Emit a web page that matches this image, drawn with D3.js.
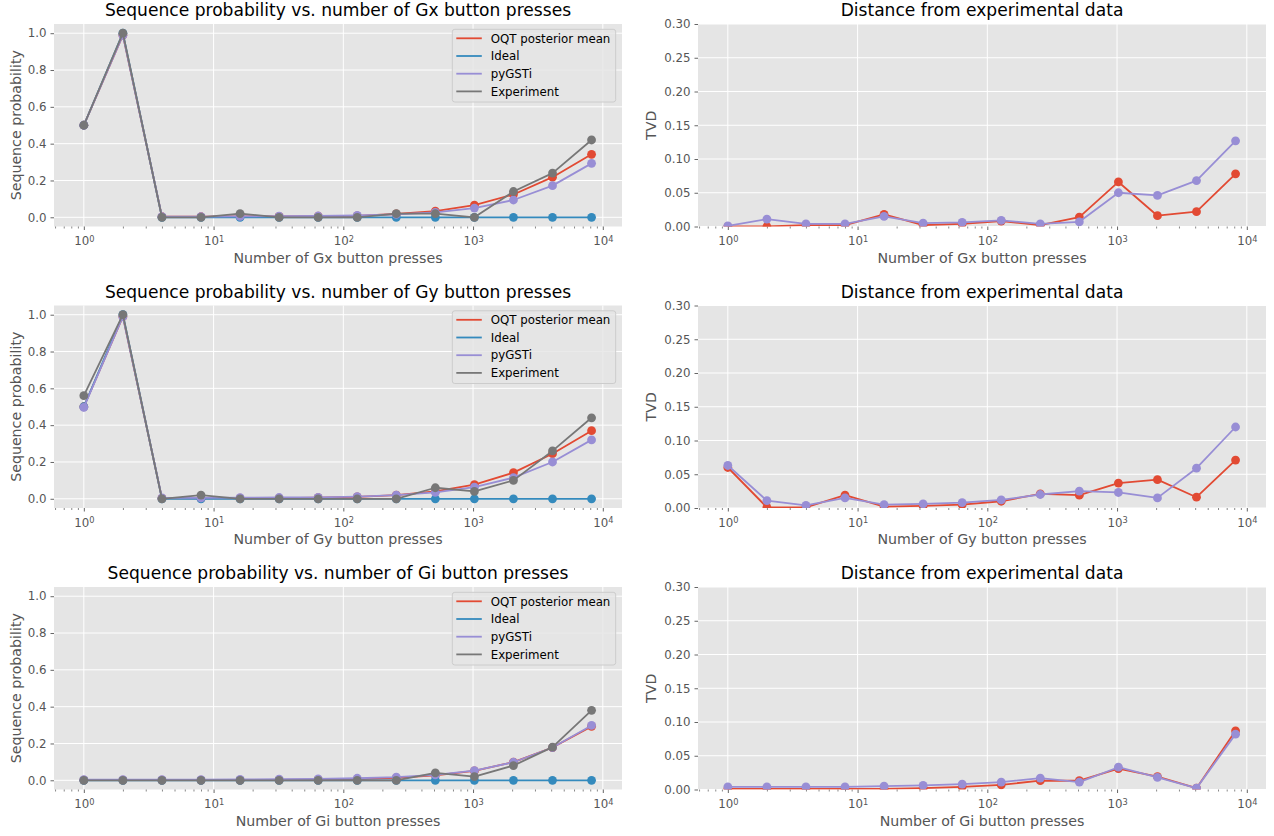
<!DOCTYPE html>
<html>
<head>
<meta charset="utf-8">
<script src="https://cdn.jsdelivr.net/npm/d3@7/dist/d3.min.js"></script>
<style>
  html, body { margin: 0; padding: 0; background: #fff; }
  svg { display: block; font-family: "DejaVu Sans", sans-serif; }
</style>
</head>
<body>
<svg id="chart" width="1274" height="836"></svg>
<script>
// ---------------- DATA ----------------
const presses = [1, 2, 4, 8, 16, 32, 64, 128, 256, 512, 1024, 2048, 4096, 8192];
const seriesNames = ["OQT posterior mean", "Ideal", "pyGSTi", "Experiment"];
const seriesColors = ["#E24A33", "#348ABD", "#988ED5", "#777777"];
const gates = ["Gx", "Gy", "Gi"];

const gxOqt    = [0.5, 0.99, 0.003, 0.003, 0.005, 0.005, 0.006, 0.008, 0.018, 0.034, 0.066, 0.124, 0.218, 0.342];
const gxIdeal  = [0.5, 1.0, 0, 0, 0, 0, 0, 0, 0, 0, 0, 0, 0, 0];
const gxPygsti = [0.5, 0.989, 0.004, 0.004, 0.005, 0.006, 0.007, 0.010, 0.016, 0.027, 0.050, 0.094, 0.172, 0.293];
const gxExp    = [0.5, 1.0, 0.0, 0.0, 0.02, 0.0, 0.0, 0.0, 0.02, 0.02, 0.0, 0.14, 0.24, 0.42];
const gxTvdOqt    = [0.0, 0.0, 0.002, 0.002, 0.018, 0.002, 0.004, 0.008, 0.002, 0.014, 0.066, 0.016, 0.022, 0.078];
const gxTvdPygsti = [0.001, 0.011, 0.004, 0.004, 0.015, 0.005, 0.006, 0.009, 0.004, 0.007, 0.050, 0.046, 0.068, 0.127];

const gyOqt    = [0.5, 0.99, 0.002, 0.002, 0.003, 0.004, 0.006, 0.010, 0.020, 0.040, 0.077, 0.142, 0.245, 0.370];
const gyIdeal  = [0.5, 1.0, 0, 0, 0, 0, 0, 0, 0, 0, 0, 0, 0, 0];
const gyPygsti = [0.497, 0.989, 0.005, 0.005, 0.006, 0.007, 0.008, 0.012, 0.020, 0.035, 0.063, 0.115, 0.200, 0.320];
const gyExp    = [0.56, 1.0, 0.0, 0.02, 0.0, 0.0, 0.0, 0.0, 0.0, 0.06, 0.04, 0.10, 0.26, 0.44];
const gyTvdOqt    = [0.060, 0.001, 0.001, 0.019, 0.002, 0.003, 0.005, 0.010, 0.021, 0.019, 0.037, 0.042, 0.016, 0.071];
const gyTvdPygsti = [0.063, 0.011, 0.004, 0.015, 0.005, 0.006, 0.008, 0.012, 0.020, 0.025, 0.023, 0.015, 0.059, 0.120];

const giOqt    = [0.001, 0.001, 0.001, 0.001, 0.001, 0.002, 0.004, 0.007, 0.013, 0.027, 0.051, 0.099, 0.178, 0.293];
const giIdeal  = [0, 0, 0, 0, 0, 0, 0, 0, 0, 0, 0, 0, 0, 0];
const giPygsti = [0.004, 0.004, 0.004, 0.004, 0.005, 0.006, 0.008, 0.011, 0.017, 0.029, 0.053, 0.098, 0.178, 0.298];
const giExp    = [0.0, 0.0, 0.0, 0.0, 0.0, 0.0, 0.0, 0.0, 0.0, 0.04, 0.02, 0.08, 0.18, 0.38];
const giTvdOqt    = [0.001, 0.001, 0.001, 0.001, 0.001, 0.002, 0.004, 0.007, 0.013, 0.013, 0.031, 0.019, 0.002, 0.087];
const giTvdPygsti = [0.004, 0.004, 0.004, 0.004, 0.005, 0.006, 0.008, 0.011, 0.017, 0.011, 0.033, 0.018, 0.002, 0.082];

const probTicks = [0.0, 0.2, 0.4, 0.6, 0.8, 1.0];
const tvdTicks = [0.00, 0.05, 0.10, 0.15, 0.20, 0.25, 0.30];
const decadeTicks = [1, 10, 100, 1000, 10000];

const probRows = [
  [gxOqt, gxIdeal, gxPygsti, gxExp],
  [gyOqt, gyIdeal, gyPygsti, gyExp],
  [giOqt, giIdeal, giPygsti, giExp]
];
const tvdRows = [
  [gxTvdOqt, gxTvdPygsti],
  [gyTvdOqt, gyTvdPygsti],
  [giTvdOqt, giTvdPygsti]
];

// ---------------- LAYOUT ----------------
const svg = d3.select("#chart");
const colX = [[54, 622], [698, 1266]];
const rowTop = [24, 305.5, 587];
const axH = 202.5;
const BG = "#E5E5E5";
const TXT = "#555555";
const tickFont = 11.8, labelFont = 14.2, titleFont = 17.1, legendFont = 11.8;

const xDomain = [Math.pow(10, -0.23), Math.pow(10, 4.148)];
const minorTicks = [];
for (let e = -1; e <= 4; e++) {
  for (let m = 2; m <= 9; m++) {
    const v = m * Math.pow(10, e);
    if (v >= xDomain[0] && v <= xDomain[1]) minorTicks.push(v);
  }
}

function drawPanel(idx, col, row, title, xlabel, ylabel, yDomain, yTicks, yFmt, seriesList, colorList, names) {
  const [x0, x1] = colX[col];
  const y0 = rowTop[row], y1 = y0 + axH;
  const x = d3.scaleLog().domain(xDomain).range([x0, x1]);
  const y = d3.scaleLinear().domain(yDomain).range([y1, y0]);
  const g = svg.append("g");

  g.append("rect").attr("x", x0).attr("y", y0).attr("width", x1 - x0).attr("height", axH).attr("fill", BG);

  // grid
  g.append("g").selectAll("line").data(yTicks).join("line")
    .attr("x1", x0).attr("x2", x1).attr("y1", d => y(d)).attr("y2", d => y(d))
    .attr("stroke", "#fff").attr("stroke-width", 1);
  g.append("g").selectAll("line").data(decadeTicks.filter(d => d >= xDomain[0] && d <= xDomain[1])).join("line")
    .attr("y1", y0).attr("y2", y1).attr("x1", d => x(d)).attr("x2", d => x(d))
    .attr("stroke", "#fff").attr("stroke-width", 1);

  // axes
  const xa = g.append("g").attr("transform", `translate(0,${y1})`)
    .call(d3.axisBottom(x).tickValues(decadeTicks).tickSize(3.5).tickPadding(6.7).tickFormat(d => ""));
  xa.select(".domain").remove();
  xa.selectAll("line").attr("stroke", TXT).attr("stroke-width", 0.9);
  xa.selectAll("text").each(function(d) {
    const t = d3.select(this);
    t.attr("fill", TXT).attr("font-size", tickFont).attr("font-family", "DejaVu Sans");
    t.append("tspan").text("10");
    t.append("tspan").attr("dy", "-0.42em").attr("font-size", tickFont * 0.7).text(Math.round(Math.log10(d)));
  });
  const xm = g.append("g").attr("transform", `translate(0,${y1})`)
    .call(d3.axisBottom(x).tickValues(minorTicks).tickSize(2).tickFormat(""));
  xm.select(".domain").remove();
  xm.selectAll("line").attr("stroke", TXT).attr("stroke-width", 0.7);

  const ya = g.append("g").attr("transform", `translate(${x0},0)`)
    .call(d3.axisLeft(y).tickValues(yTicks).tickSize(3.5).tickPadding(4).tickFormat(d3.format(yFmt)));
  ya.select(".domain").remove();
  ya.selectAll("line").attr("stroke", TXT).attr("stroke-width", 0.9);
  ya.selectAll("text").attr("fill", TXT).attr("font-size", tickFont).attr("font-family", "DejaVu Sans");

  // clip
  const cid = "clip" + idx;
  svg.append("clipPath").attr("id", cid).append("rect")
    .attr("x", x0).attr("y", y0).attr("width", x1 - x0).attr("height", axH);
  const plot = g.append("g").attr("clip-path", `url(#${cid})`);
  const line = d3.line().x((d, i) => x(presses[i])).y(d => y(d));
  seriesList.forEach((vals, si) => {
    const sg = plot.append("g");
    sg.append("path").attr("d", line(vals)).attr("fill", "none")
      .attr("stroke", colorList[si]).attr("stroke-width", 1.8).attr("stroke-linejoin", "round");
    sg.selectAll("circle").data(vals).join("circle")
      .attr("cx", (d, i) => x(presses[i])).attr("cy", d => y(d)).attr("r", 4.4)
      .attr("fill", colorList[si]);
  });

  // labels
  g.append("text").attr("x", (x0 + x1) / 2).attr("y", y0 - 8).attr("text-anchor", "middle")
    .attr("font-size", titleFont).attr("fill", "#000").text(title);
  g.append("text").attr("x", (x0 + x1) / 2).attr("y", y1 + 36).attr("text-anchor", "middle")
    .attr("font-size", labelFont).attr("fill", TXT).text(xlabel);
  const ylx = col === 0 ? 21 : 656;
  g.append("text").attr("transform", `translate(${ylx},${(y0 + y1) / 2}) rotate(-90)`)
    .attr("text-anchor", "middle").attr("font-size", labelFont).attr("fill", TXT).text(ylabel);

  // legend
  if (names) {
    const lx = x1 - 6.3 - 163.4, ly = y0 + 5.3;
    const lg = g.append("g");
    lg.append("rect").attr("x", lx).attr("y", ly).attr("width", 163.4).attr("height", 72.7)
      .attr("rx", 2.5).attr("fill", BG).attr("fill-opacity", 0.8).attr("stroke", "#CCCCCC").attr("stroke-width", 1);
    names.forEach((n, i) => {
      const cy = ly + 9 + i * 17.7;
      lg.append("line").attr("x1", lx + 4).attr("x2", lx + 29.5).attr("y1", cy).attr("y2", cy)
        .attr("stroke", colorList[i]).attr("stroke-width", 1.8);
      lg.append("text").attr("x", lx + 38.4).attr("y", cy).attr("dy", "0.36em")
        .attr("font-size", legendFont).attr("fill", "#000").text(n);
    });
  }
}

gates.forEach((gname, r) => {
  drawPanel(r * 2, 0, r, `Sequence probability vs. number of ${gname} button presses`,
    `Number of ${gname} button presses`, "Sequence probability",
    [-0.05, 1.05], probTicks, ".1f", probRows[r], seriesColors, seriesNames);
  drawPanel(r * 2 + 1, 1, r, "Distance from experimental data",
    `Number of ${gname} button presses`, "TVD",
    [0, 0.30], tvdTicks, ".2f", tvdRows[r], [seriesColors[0], seriesColors[2]], null);
});
</script>
</body>
</html>
